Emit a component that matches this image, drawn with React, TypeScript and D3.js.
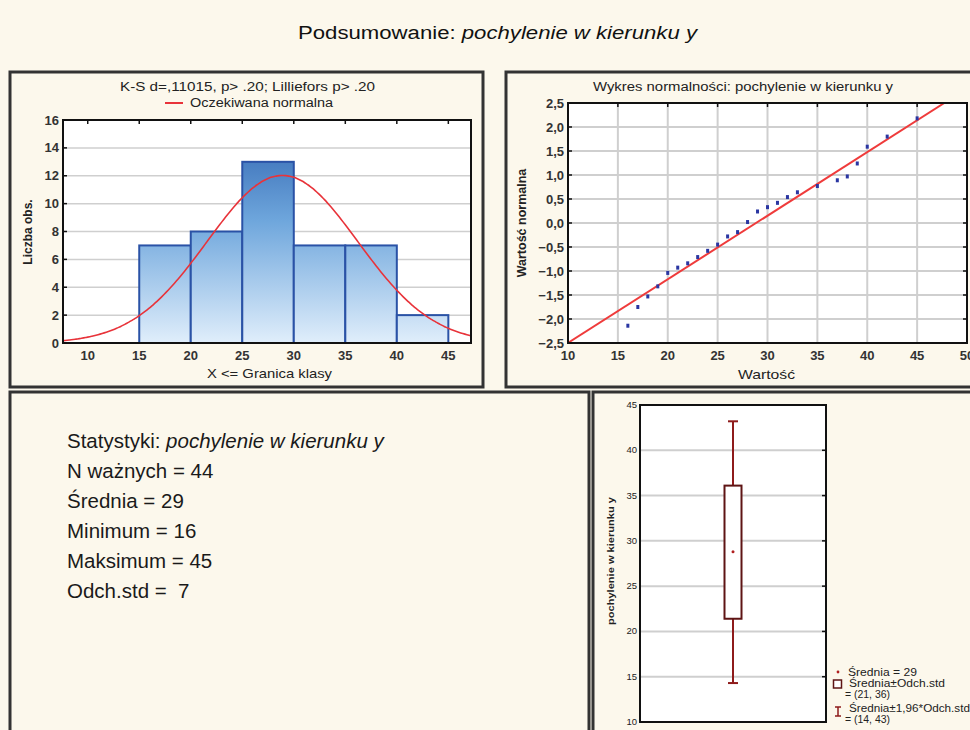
import React from 'react';
import * as d3 from 'd3';

// histogram
const binEdges = [15, 20, 25, 30, 35, 40, 45];
const binCounts = [7, 8, 13, 7, 7, 2];
const histTicksX = [10, 15, 20, 25, 30, 35, 40, 45];
const histTicksY = [0, 2, 4, 6, 8, 10, 12, 14, 16];
const fitMean = 28.9;
const fitSd = 7.3;
const nObs = 44;

// normal probability plot
const probValues = [16, 17, 18, 19, 20, 21, 22, 23, 24, 25, 26, 27, 28, 29, 30, 31, 32, 33, 35, 37, 38, 39, 40, 42, 45];
const probScores = [-2.14, -1.75, -1.53, -1.32, -1.04, -0.93, -0.84, -0.71, -0.58, -0.45, -0.28, -0.19, 0.02, 0.24, 0.33, 0.42, 0.54, 0.64, 0.77, 0.89, 0.97, 1.24, 1.59, 1.8, 2.18];
const probTicksX = [10, 15, 20, 25, 30, 35, 40, 45, 50];
const probTicksY = [-2.5, -2, -1.5, -1, -0.5, 0, 0.5, 1, 1.5, 2, 2.5];
const lineMean = 28.85;
const lineSd = 7.55;

// box plot
const boxCategory = ['pochylenie w kierunku y'];
const boxMean = [28.8];
const boxLow = [21.4];
const boxHigh = [36.1];
const whiskLow = [14.3];
const whiskHigh = [43.2];
const boxTicksY = [10, 15, 20, 25, 30, 35, 40, 45];

// statistics text
const statLabels = ['N ważnych', 'Średnia', 'Minimum', 'Maksimum', 'Odch.std'];
const statValues = ['44', '29', '16', '45', ' 7'];

const font = '"Liberation Sans", Arial, sans-serif';
const bg = '#fcf8ec';
const grid = '#cfcfcf';
const ink = '#222';

const fmtComma = (v: number) => d3.format('.1f')(v).replace('.', ',');

const App = () => {
  // ---------- histogram ----------
  const hx = d3.scaleLinear().domain([7.6, 47.2]).range([63, 471]);
  const hy = d3.scaleLinear().domain([0, 16]).range([343, 120]);
  const binW = binEdges[1] - binEdges[0];
  const normalPts = d3.range(7.6, 47.25, 0.2).map(x => [
    x,
    (nObs * binW) / (fitSd * Math.sqrt(2 * Math.PI)) * Math.exp(-((x - fitMean) ** 2) / (2 * fitSd * fitSd)),
  ]);
  const curve = d3.line<number[]>().x(d => hx(d[0])).y(d => hy(d[1])).curve(d3.curveBasis)(normalPts);

  // ---------- normal probability ----------
  const px = d3.scaleLinear().domain([10, 50]).range([568, 967]);
  const py = d3.scaleLinear().domain([-2.5, 2.5]).range([343, 103]);
  const lx0 = lineMean - 2.5 * lineSd;
  const lx1 = lineMean + 2.5 * lineSd;

  // ---------- box plot ----------
  const bx = d3.scaleBand().domain(boxCategory).range([640, 826]);
  const by = d3.scaleLinear().domain([10, 45]).range([722, 405]);
  const bc = (bx(boxCategory[0]) as number) + bx.bandwidth() / 2;

  const stretch = { lengthAdjust: 'spacingAndGlyphs' } as any;

  return (
    <svg width={970} height={730} style={{ position: 'absolute', left: 0, top: 0, fontFamily: font }}>
      <defs>
        <linearGradient id="barGrad" gradientUnits="userSpaceOnUse" x1="0" y1={hy(16)} x2="0" y2={hy(0)}>
          <stop offset="0" stopColor="#2c60ae" />
          <stop offset="0.45" stopColor="#6ea6dc" />
          <stop offset="1" stopColor="#e0eefb" />
        </linearGradient>
        <clipPath id="probClip">
          <rect x={568} y={103} width={399} height={240} />
        </clipPath>
      </defs>
      <rect x={0} y={0} width={970} height={730} fill={bg} />

      <text x={298} y={39} fontSize={18} fill="#111" textLength={399} {...stretch}>
        Podsumowanie: <tspan fontStyle="italic">pochylenie w kierunku y</tspan>
      </text>

      {/* panel frames */}
      <rect x={10} y={72} width={473} height={315} fill="none" stroke="#333" strokeWidth={3} />
      <rect x={506} y={72} width={480} height={315} fill="none" stroke="#333" strokeWidth={3} />
      <rect x={10} y={392} width={579} height={360} fill="none" stroke="#333" strokeWidth={3} />
      <rect x={593} y={392} width={400} height={360} fill="none" stroke="#333" strokeWidth={3} />

      {/* ---------- histogram panel ---------- */}
      <text x={120} y={91} fontSize={12.5} fill={ink} textLength={255} {...stretch}>K-S d=,11015, p&gt; .20; Lilliefors p&gt; .20</text>
      <line x1={165} x2={183} y1={103} y2={103} stroke="#e8333a" strokeWidth={2} />
      <text x={190} y={107} fontSize={12.5} fill={ink} textLength={143} {...stretch}>Oczekiwana normalna</text>
      <rect x={63} y={120} width={408} height={223} fill="#fff" />
      {histTicksY.slice(1, -1).map(t => (
        <line key={t} x1={63} x2={471} y1={hy(t)} y2={hy(t)} stroke={grid} strokeWidth={1.5} />
      ))}
      {binCounts.map((c, i) => (
        <rect key={i} x={hx(binEdges[i])} y={hy(c)} width={hx(binEdges[i + 1]) - hx(binEdges[i])} height={hy(0) - hy(c)}
          fill="url(#barGrad)" stroke="#2a52a6" strokeWidth={2} />
      ))}
      <path d={curve || ''} fill="none" stroke="#e8333a" strokeWidth={1.6} />
      <rect x={63} y={120} width={408} height={223} fill="none" stroke="#111" strokeWidth={2} />
      {histTicksX.map(t => (
        <g key={t}>
          <line x1={hx(t)} x2={hx(t)} y1={120} y2={124} stroke="#111" strokeWidth={1.5} />
          <text x={hx(t)} y={360} textAnchor="middle" fontSize={13} fontWeight="bold" fill="#333">{t}</text>
        </g>
      ))}
      {histTicksY.map(t => (
        <g key={t}>
          <line x1={63} x2={67} y1={hy(t)} y2={hy(t)} stroke="#111" strokeWidth={1.5} />
          <text x={59} y={hy(t) + 4.5} textAnchor="end" fontSize={13} fontWeight="bold" fill="#333">{t}</text>
        </g>
      ))}
      <text x={207} y={378} fontSize={13} fill={ink} textLength={125} {...stretch}>X &lt;= Granica klasy</text>
      <text transform={`translate(32,232) rotate(-90)`} textAnchor="middle" fontSize={12} fontWeight="bold" fill={ink}>Liczba obs.</text>

      {/* ---------- normal probability panel ---------- */}
      <text x={593} y={91} fontSize={12.5} fill={ink} textLength={300} {...stretch}>Wykres  normalności: pochylenie w kierunku y</text>
      <rect x={568} y={103} width={399} height={240} fill="#fff" />
      {probTicksX.slice(1, -1).map(t => (
        <line key={t} x1={px(t)} x2={px(t)} y1={103} y2={343} stroke={grid} strokeWidth={2} />
      ))}
      {probTicksY.slice(1, -1).map(t => (
        <line key={t} x1={568} x2={967} y1={py(t)} y2={py(t)} stroke={grid} strokeWidth={2} />
      ))}
      <line clipPath="url(#probClip)" x1={px(lx0)} y1={py(-2.5)} x2={px(lx1)} y2={py(2.5)} stroke="#ef3b3b" strokeWidth={2} />
      {probValues.map((v, i) => (
        <rect key={i} x={px(v) - 1.5} y={py(probScores[i]) - 2} width={3} height={4} fill="#2a36a2" />
      ))}
      <rect x={568} y={103} width={399} height={240} fill="none" stroke="#111" strokeWidth={2} />
      {probTicksX.map(t => (
        <g key={t}>
          <line x1={px(t)} x2={px(t)} y1={103} y2={107} stroke="#111" strokeWidth={1.5} />
          <text x={px(t)} y={360} textAnchor="middle" fontSize={13} fontWeight="bold" fill="#333">{t}</text>
        </g>
      ))}
      {probTicksY.map(t => (
        <g key={t}>
          <line x1={568} x2={572} y1={py(t)} y2={py(t)} stroke="#111" strokeWidth={1.5} />
          <line x1={963} x2={967} y1={py(t)} y2={py(t)} stroke="#111" strokeWidth={1.5} />
          <text x={564} y={py(t) + 4.5} textAnchor="end" fontSize={13} fontWeight="bold" fill="#333">{fmtComma(t)}</text>
        </g>
      ))}
      <text x={738} y={379} fontSize={13.5} fill={ink} textLength={57} {...stretch}>Wartość</text>
      <text transform={`translate(526,223) rotate(-90)`} textAnchor="middle" fontSize={12.5} fontWeight="bold" fill={ink}>Wartość normalna</text>

      {/* ---------- statistics panel ---------- */}
      <text x={67} y={448} fontSize={20.5} fill="#1a1a1a">
        Statystyki: <tspan fontStyle="italic">pochylenie w kierunku y</tspan>
      </text>
      {statLabels.map((l, i) => (
        <text key={l} x={67} y={478 + i * 30} fontSize={20.5} fill="#1a1a1a" style={{ whiteSpace: 'pre' }}>
          {`${l} = ${statValues[i]}`}
        </text>
      ))}

      {/* ---------- box plot panel ---------- */}
      <rect x={640} y={405} width={186} height={317} fill="#fff" />
      {boxTicksY.slice(1, -1).map(t => (
        <line key={t} x1={640} x2={826} y1={by(t)} y2={by(t)} stroke={grid} strokeWidth={2} />
      ))}
      {boxCategory.map((c, i) => (
        <g key={c}>
          <line x1={bc} x2={bc} y1={by(whiskHigh[i])} y2={by(boxHigh[i])} stroke="#8e1b1b" strokeWidth={2} />
          <line x1={bc} x2={bc} y1={by(boxLow[i])} y2={by(whiskLow[i])} stroke="#8e1b1b" strokeWidth={2} />
          <line x1={bc - 5} x2={bc + 5} y1={by(whiskHigh[i])} y2={by(whiskHigh[i])} stroke="#8e1b1b" strokeWidth={2} />
          <line x1={bc - 5} x2={bc + 5} y1={by(whiskLow[i])} y2={by(whiskLow[i])} stroke="#8e1b1b" strokeWidth={2} />
          <rect x={bc - 8.5} y={by(boxHigh[i])} width={17} height={by(boxLow[i]) - by(boxHigh[i])} fill="#fff" stroke="#5e1414" strokeWidth={2} />
          <circle cx={bc} cy={by(boxMean[i])} r={1.5} fill="#b02020" />
        </g>
      ))}
      <rect x={640} y={405} width={186} height={317} fill="none" stroke="#111" strokeWidth={2} />
      {boxTicksY.map(t => (
        <g key={t}>
          <line x1={822} x2={826} y1={by(t)} y2={by(t)} stroke="#111" strokeWidth={1.5} />
          <text x={637} y={by(t) + 3} textAnchor="end" fontSize={9.5} fill={ink}>{t}</text>
        </g>
      ))}
      <text transform={`translate(614,561) rotate(-90)`} fontSize={9} fontWeight="bold" fill={ink} textAnchor="middle" textLength={128} {...stretch}>{boxCategory[0]}</text>

      {/* box legend */}
      <circle cx={838} cy={672} r={1.4} fill="#b02020" />
      <text x={848} y={676} fontSize={10} fill={ink} textLength={69} {...stretch}>Średnia = 29</text>
      <rect x={833.5} y={680} width={8} height={8} fill="#fff" stroke="#5e1414" strokeWidth={1.5} />
      <text x={849} y={687} fontSize={10} fill={ink} textLength={96} {...stretch}>Średnia±Odch.std</text>
      <text x={845} y={698} fontSize={10} fill={ink} textLength={45} {...stretch}>= (21, 36)</text>
      <line x1={838} x2={838} y1={707} y2={716} stroke="#8e1b1b" strokeWidth={1.5} />
      <line x1={835} x2={841} y1={707} y2={707} stroke="#8e1b1b" strokeWidth={1.5} />
      <line x1={835} x2={841} y1={716} y2={716} stroke="#8e1b1b" strokeWidth={1.5} />
      <text x={849} y={712} fontSize={10} fill={ink} textLength={121} {...stretch}>Średnia±1,96*Odch.std</text>
      <text x={845} y={723} fontSize={10} fill={ink} textLength={45} {...stretch}>= (14, 43)</text>
    </svg>
  );
};

export default App;
